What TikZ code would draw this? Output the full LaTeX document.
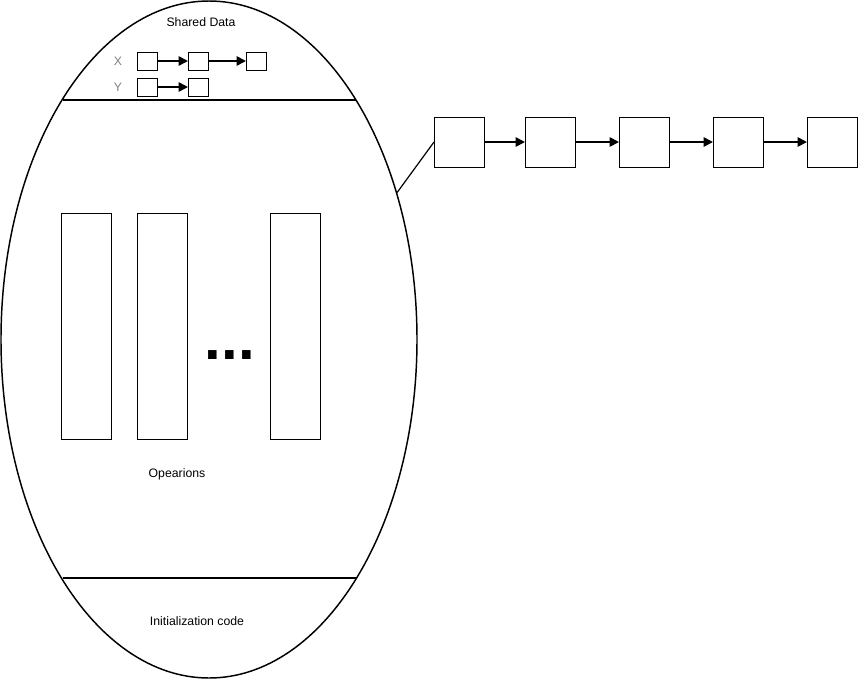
\documentclass[tikz,border=0pt]{standalone}
\usepackage{fontspec}
\setmainfont{Liberation Sans}
\usetikzlibrary{positioning, shapes.geometric, arrows.meta}

\begin{document}
\begin{tikzpicture}[x=0.75pt, y=-0.75pt]
    % Styles
    \tikzset{
        monitor_shape/.style={ellipse, draw, line width=1.1pt, minimum width=312pt, minimum height=507.75pt, inner sep=0pt},
        cell/.style={rectangle, draw, line width=0.75pt, minimum width=15pt, minimum height=13.5pt, inner sep=0pt, outer sep=0pt},
        qbox/.style={rectangle, draw, line width=0.75pt, minimum width=37.5pt, minimum height=37.5pt, inner sep=0pt, outer sep=0pt},
        opbox/.style={rectangle, draw, line width=0.75pt, minimum width=37.5pt, minimum height=169.5pt, inner sep=0pt, outer sep=0pt},
        label_text/.style={font=\fontsize{9.2}{11}\selectfont, inner sep=0pt},
        link/.style={-{Triangle[length=7pt, width=7pt]}, line width=1.3pt},
        divider/.style={line width=1.3pt}
    }
    \useasboundingbox (0,0) rectangle (858,679);

    % --- Monitor ---
    \node[monitor_shape] (monitor) at (209,339.5) {};

    % Dividers
    \draw[divider] (62.5,100) -- (355.5,100);
    \draw[divider] (62.5,578) -- (355.5,578);

    % Shared Data
    \node[label_text] (shared) at (201,22) {Shared Data};
    \node[label_text, text=gray] (xlabel) at (118,61) {X};
    \node[label_text, text=gray] (ylabel) at (118,87) {Y};

    \node[cell] (x1) at (147,61) {};
    \node[cell, right=23.25pt of x1] (x2) {};
    \node[cell, right=28.5pt of x2] (x3) {};
    \node[cell] (y1) at (147,87) {};
    \node[cell, right=23.25pt of y1] (y2) {};

    \draw[link] (x1.east) -- (x2.west);
    \draw[link] (x2.east) -- (x3.west);
    \draw[link] (y1.east) -- (y2.west);

    % Operations
    \node[opbox] (op1) at (86,326) {};
    \node[opbox, right=19.5pt of op1] (op2) {};
    \node[opbox] (opn) at (295,326) {};
    \node[font=\fontsize{45}{45}\selectfont\bfseries, inner sep=0pt] (dots) at (230,355) {...};
    \node[label_text] (ops) at (177,474) {Opearions};

    % Initialization
    \node[label_text] (init) at (197,621) {Initialization code};

    % --- Entry queue ---
    \node[qbox] (q1) at (459,142) {};
    \node[qbox, right=30.75pt of q1] (q2) {};
    \node[qbox, right=33pt of q2] (q3) {};
    \node[qbox, right=33pt of q3] (q4) {};
    \node[qbox, right=33pt of q4] (q5) {};

    \draw[link] (q1.east) -- (q2.west);
    \draw[link] (q2.east) -- (q3.west);
    \draw[link] (q3.east) -- (q4.west);
    \draw[link] (q4.east) -- (q5.west);

    % Queue attached to monitor
    \draw[line width=0.9pt] (monitor.38.5) -- (q1.west);

\end{tikzpicture}
\end{document}
